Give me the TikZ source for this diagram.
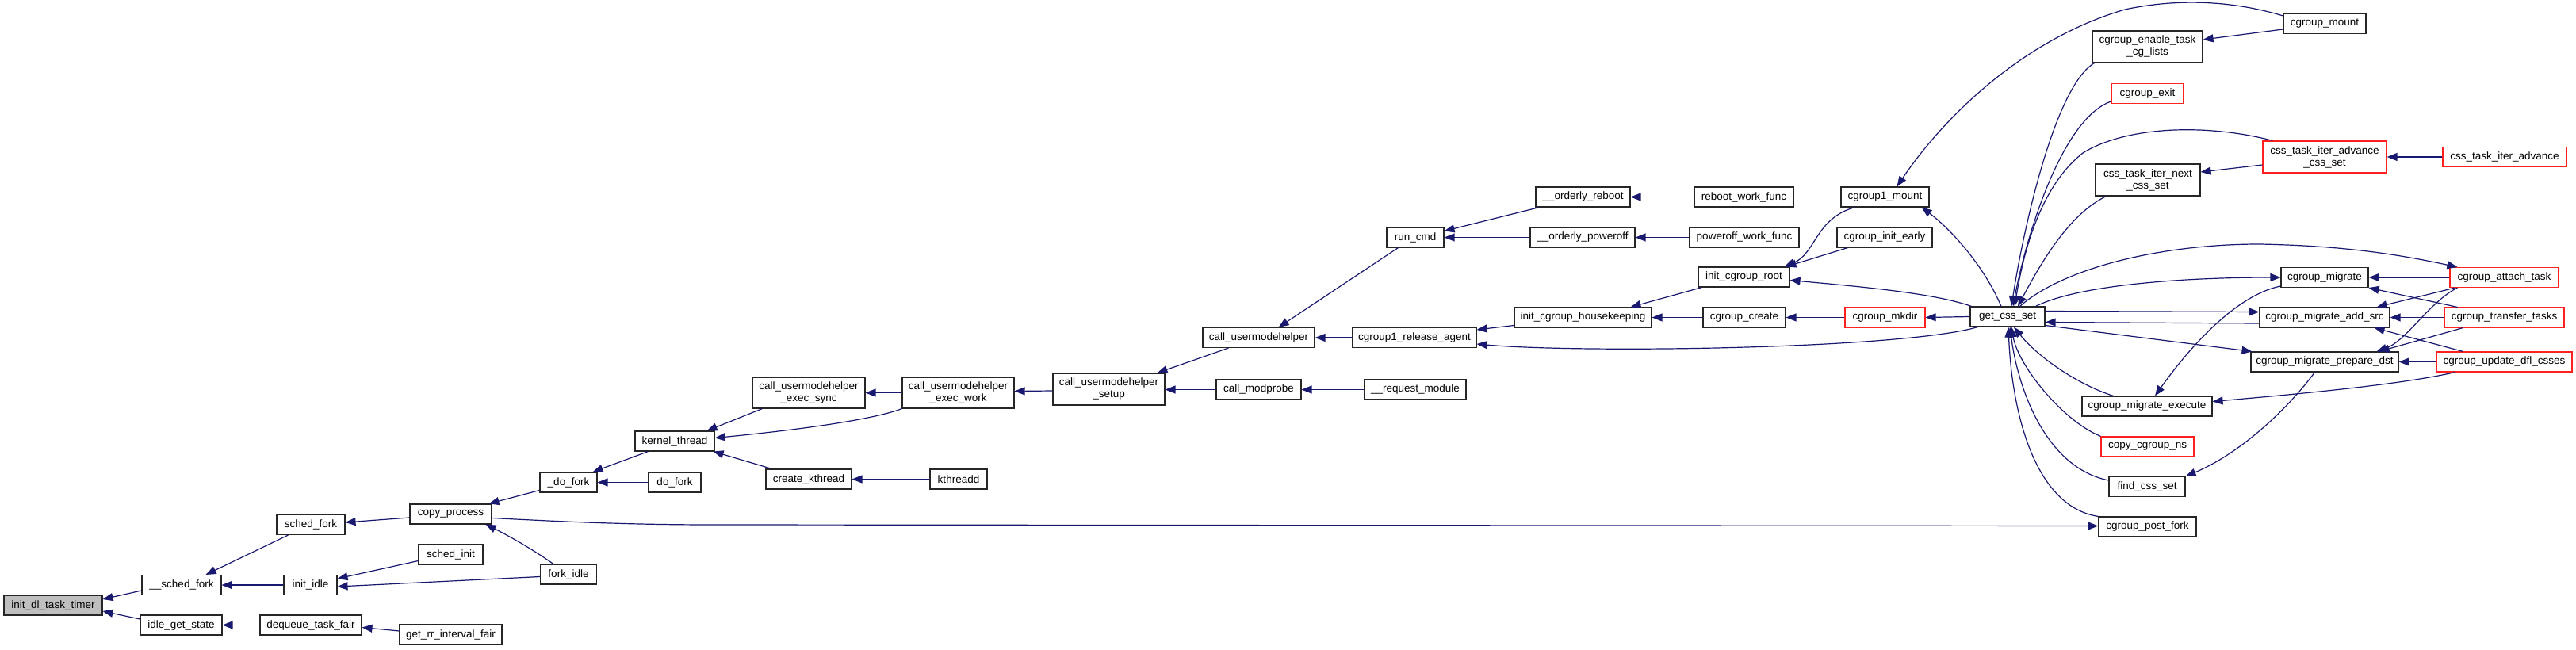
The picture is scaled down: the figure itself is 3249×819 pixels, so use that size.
\documentclass[tikz,border=0pt]{standalone}
\usepackage{fontspec}
\setmainfont{Liberation Sans}
\usetikzlibrary{arrows.meta,calc}
\definecolor{edgeblue}{HTML}{191970}
\definecolor{rootgray}{HTML}{BFBFBF}
\definecolor{redb}{HTML}{FF2020}
\begin{document}
\begin{tikzpicture}[x=1pt,y=-1pt,
 nb/.style={draw=black!85, line width=1.1pt, inner sep=0pt, minimum height=25pt, align=center, font=\fontsize{13.5}{15}\selectfont, fill=white},
 nr/.style={nb, draw=redb},
 e/.style={draw=edgeblue, line width=1.2pt, arrows={Triangle[length=13pt,width=10pt]-}}]
\fill[white] (0,0) rectangle (3249,819);
\useasboundingbox (0,0) rectangle (3249,819);
% nodes
\node[nb,fill=rootgray,minimum width=124pt] (root) at (67,763.5) {init\_dl\_task\_timer};
\node[nb,minimum width=100pt] (sfork) at (229,738) {\_\_sched\_fork};
\node[nb,minimum width=103pt] (igs) at (228.5,788.5) {idle\_get\_state};
\node[nb,minimum width=86pt] (schedf) at (392,662) {sched\_fork};
\node[nb,minimum width=67pt] (iidle) at (391.5,738) {init\_idle};
\node[nb,minimum width=128pt] (dtf) at (392,788.5) {dequeue\_task\_fair};
\node[nb,minimum width=103pt] (cproc) at (568.5,648.5) {copy\_process};
\node[nb,minimum width=81pt] (sinit) at (568.5,699.5) {sched\_init};
\node[nb,minimum width=129pt] (grr) at (568.5,800.5) {get\_rr\_interval\_fair};
\node[nb,minimum width=72pt] (udofork) at (717,608.5) {\_do\_fork};
\node[nb,minimum width=71pt] (fidle) at (717,724.5) {fork\_idle};
\node[nb,minimum width=66pt] (dofork) at (851,608.5) {do\_fork};
\node[nb,minimum width=100pt] (kthr) at (851,556.5) {kernel\_thread};
\node[nb,minimum width=142pt,minimum height=39pt] (cues) at (1020,495.5) {call\_usermodehelper\\\_exec\_sync};
\node[nb,minimum width=108pt] (ckt) at (1020,604.5) {create\_kthread};
\node[nb,minimum width=141pt,minimum height=39pt] (cuew) at (1208.5,495.5) {call\_usermodehelper\\\_exec\_work};
\node[nb,minimum width=72pt] (ktd) at (1209,604.5) {kthreadd};
\node[nb,minimum width=141pt,minimum height=40pt] (cusetup) at (1398.5,491) {call\_usermodehelper\\\_setup};
\node[nb,minimum width=141pt] (cuh) at (1587.5,426) {call\_usermodehelper};
\node[nb,minimum width=107pt] (cmp) at (1587.5,491.5) {call\_modprobe};
\node[nb,minimum width=72pt] (runcmd) at (1785,299.5) {run\_cmd};
\node[nb,minimum width=156pt] (cra) at (1784,426) {cgroup1\_release\_agent};
\node[nb,minimum width=128pt] (reqmod) at (1785,491.5) {\_\_request\_module};
\node[nb,minimum width=119pt] (oreboot) at (1996.5,248.5) {\_\_orderly\_reboot};
\node[nb,minimum width=132pt] (opoff) at (1996,299.5) {\_\_orderly\_poweroff};
\node[nb,minimum width=173pt] (ich) at (1996.5,400.5) {init\_cgroup\_housekeeping};
\node[nb,minimum width=125pt] (rwf) at (2199.5,248.5) {reboot\_work\_func};
\node[nb,minimum width=138pt] (pwf) at (2200,299.5) {poweroff\_work\_func};
\node[nb,minimum width=115pt] (icr) at (2199.5,349.5) {init\_cgroup\_root};
\node[nb,minimum width=104pt] (ccreate) at (2200,400.5) {cgroup\_create};
\node[nb,minimum width=111pt] (c1m) at (2377.5,248.5) {cgroup1\_mount};
\node[nb,minimum width=120pt] (cie) at (2377,299.5) {cgroup\_init\_early};
\node[nr,minimum width=101pt] (cmkdir) at (2377.5,400.5) {cgroup\_mkdir};
\node[nb,minimum width=94pt] (gcs) at (2532,399.5) {get\_css\_set};
\node[nb,minimum width=104pt] (cmount) at (2932,30) {cgroup\_mount};
\node[nb,minimum width=139pt,minimum height=40pt] (cetcl) at (2708.5,59) {cgroup\_enable\_task\\\_cg\_lists};
\node[nr,minimum width=91pt] (cexit) at (2708.5,118) {cgroup\_exit};
\node[nr,minimum width=156pt,minimum height=40pt] (ctiacs) at (2932,198) {css\_task\_iter\_advance\\\_css\_set};
\node[nr,minimum width=156pt] (ctia) at (3159,198) {css\_task\_iter\_advance};
\node[nb,minimum width=132pt,minimum height=40pt] (ctincs) at (2709,227) {css\_task\_iter\_next\\\_css\_set};
\node[nb,minimum width=110pt] (cmig) at (2932,350) {cgroup\_migrate};
\node[nr,minimum width=137pt] (cat) at (3158.5,350) {cgroup\_attach\_task};
\node[nb,minimum width=164pt] (cmas) at (2932,400.5) {cgroup\_migrate\_add\_src};
\node[nr,minimum width=151pt] (ctt) at (3158.5,400.5) {cgroup\_transfer\_tasks};
\node[nb,minimum width=186pt] (cmpd) at (2932,456.5) {cgroup\_migrate\_prepare\_dst};
\node[nr,minimum width=171pt] (cudc) at (3158.5,456.5) {cgroup\_update\_dfl\_csses};
\node[nb,minimum width=164pt] (cme) at (2708,512.5) {cgroup\_migrate\_execute};
\node[nr,minimum width=117pt] (ccns) at (2708.5,563.5) {copy\_cgroup\_ns};
\node[nb,minimum width=96pt] (fcs) at (2708,614) {find\_css\_set};
\node[nb,minimum width=123pt] (cpf) at (2708.5,664.5) {cgroup\_post\_fork};
% edges
\draw[e] ($(root.east)+(0,-7.5)$) -- ($(sfork.west)+(0,7)$);
\draw[e] ($(root.east)+(0,7.5)$) -- ($(igs.west)+(0,-7.5)$);
\draw[e] ($(sfork.north east)+(-20,0)$) -- ($(schedf.south west)+(15,0)$);
\draw[e] (sfork.east) -- (iidle.west);
\draw[e] (igs.east) -- (dtf.west);
\draw[e] ($(schedf.east)+(0,-3)$) -- ($(cproc.west)+(0,4.5)$);
\draw[e] ($(iidle.east)+(0,-8)$) -- ($(sinit.west)+(0,8)$);
\draw[e] ($(iidle.east)+(0,2)$) -- ($(fidle.west)+(0,3)$);
\draw[e] ($(dtf.east)+(0,3)$) -- ($(grr.west)+(0,-4.5)$);
\draw[e] ($(cproc.north east)+(-4,0)$) -- ($(udofork.west)+(0,10)$);
\draw[e] ($(cproc.south east)+(-8,0)$) .. controls (640,675) and (672,693) .. ($(fidle.north west)+(17,0)$);
\draw[e] ($(cpf.west)+(0,-1)$) -- (900,662) .. controls (780,662) and (690,657) .. ($(cproc.east)+(0,5)$);
\draw[e] ($(udofork.north east)+(-6,0)$) -- ($(kthr.south west)+(17,0)$);
\draw[e] (udofork.east) -- (dofork.west);
\draw[e] ($(kthr.north east)+(-10,0)$) -- ($(cues.south west)+(13,0)$);
\draw[e] ($(kthr.east)+(0,-4)$) .. controls (1000,543) and (1100,530) .. (cuew.south west);
\draw[e] ($(kthr.south east)+(-2,0)$) -- ($(ckt.north west)+(8,0)$);
\draw[e] (ckt.east) -- (ktd.west);
\draw[e] (cues.east) -- (cuew.west);
\draw[e] ($(cuew.east)+(0,-2)$) -- ($(cusetup.west)+(0,2)$);
\draw[e] ($(cusetup.north east)+(-10,0)$) -- ($(cuh.south west)+(33,0)$);
\draw[e] ($(cusetup.east)+(0,0.5)$) -- (cmp.west);
\draw[e] (cmp.east) -- (reqmod.west);
\draw[e] ($(cuh.north)+(25,0)$) -- ($(runcmd.south west)+(15,0)$);
\draw[e] (cuh.east) -- (cra.west);
\draw[e] ($(runcmd.east)+(0,-8)$) -- ($(oreboot.south west)+(5,0)$);
\draw[e] (runcmd.east) -- (opoff.west);
\draw[e] (oreboot.east) -- (rwf.west);
\draw[e] (opoff.east) -- (pwf.west);
\draw[e] ($(cra.east)+(0,-10)$) -- ($(ich.west)+(0,10)$);
\draw[e] ($(cra.east)+(0,8)$) .. controls (2000,446) and (2400,440) .. ($(gcs.south west)+(10,0)$);
\draw[e] ($(ich.north)+(60,0)$) -- ($(icr.south west)+(5,0)$);
\draw[e] (ich.east) -- (ccreate.west);
\draw[e] ($(icr.north east)+(-7,0)$) .. controls (2290,320) and (2290,275) .. ($(c1m.south west)+(18,0)$);
\draw[e] ($(icr.north east)+(-5,0)$) -- ($(cie.south west)+(14,0)$);
\draw[e] ($(icr.east)+(0,4)$) .. controls (2350,362) and (2440,370) .. ($(gcs.north west)+(2,0)$);
\draw[e] (ccreate.east) -- (cmkdir.west);
\draw[e] (cmkdir.east) -- (gcs.west);
\draw[e] ($(c1m.south east)+(-10,0)$) .. controls (2455,285) and (2500,330) .. ($(gcs.north)+(-8,0)$);
\draw[e] ($(c1m.north)+(15,0)$) .. controls (2450,150) and (2550,50) .. (2680,12) .. controls (2760,-5) and (2830,5) .. ($(cmount.north west)+(0,3)$);
\draw[e] ($(gcs.north)+(5,0)$) .. controls (2550,300) and (2590,110) .. ($(cetcl.south west)+(3,0)$);
\draw[e] ($(gcs.north)+(7,0)$) .. controls (2555,300) and (2600,150) .. ($(cexit.west)+(0,10)$);
\draw[e] ($(gcs.north)+(9,0)$) .. controls (2555,300) and (2580,230) .. (2627,193) .. controls (2680,160) and (2780,155) .. ($(ctiacs.north west)+(13,0)$);
\draw[e] ($(gcs.north)+(13,0)$) .. controls (2575,330) and (2610,270) .. ($(ctincs.south west)+(14,0)$);
\draw[e] (cmig.west) .. controls (2750,350) and (2620,360) .. ($(gcs.north east)+(-12,0)$);
\draw[e] ($(cat.north west)+(10,0)$) .. controls (3030,322) and (2960,310) .. (2850,308) .. controls (2720,308) and (2600,340) .. ($(gcs.north east)+(-32,0)$);
\draw[e] ($(cmas.west)+(0,-7)$) -- ($(gcs.east)+(0,-7)$);
\draw[e] ($(gcs.east)+(0,7)$) -- ($(cmas.west)+(0,7.5)$);
\draw[e] ($(cmpd.north west)+(2,0)$) -- ($(gcs.east)+(0,11)$);
\draw[e] ($(gcs.south)+(8,0)$) .. controls (2570,450) and (2620,485) .. ($(cme.north west)+(40,0)$);
\draw[e] ($(gcs.south)+(5,0)$) .. controls (2545,460) and (2600,530) .. (ccns.north west);
\draw[e] ($(gcs.south)+(3,0)$) .. controls (2545,490) and (2580,590) .. ($(fcs.west)+(0,-8)$);
\draw[e] ($(gcs.south)+(1,0)$) .. controls (2538,530) and (2570,640) .. (cpf.north west);
\draw[e] (cmig.east) -- (cat.west);
\draw[e] (cmig.south east) -- ($(ctt.north west)+(17,0)$);
\draw[e] ($(cmas.north east)+(-17,0)$) -- ($(cat.south west)+(7,0)$);
\draw[e] (cmas.east) -- (ctt.west);
\draw[e] ($(cmas.south east)+(-20,0)$) -- ($(cudc.north west)+(34,0)$);
\draw[e] ($(cmpd.north east)+(-28,0)$) .. controls (3035,430) and (3065,380) .. ($(cat.south west)+(10,0)$);
\draw[e] ($(cmpd.north east)+(-25,0)$) -- ($(ctt.south west)+(24,0)$);
\draw[e] (cmpd.east) -- (cudc.west);
\draw[e] ($(cme.east)+(0,-6)$) .. controls (2900,497) and (3030,485) .. ($(cudc.south west)+(24,0)$);
\draw[e] ($(cme.north)+(10,0)$) .. controls (2760,440) and (2820,372) .. ($(cmig.west)+(0,11)$);
\draw[e] (fcs.north east) .. controls (2830,570) and (2890,510) .. ($(cmpd.south west)+(81,0)$);
\draw[e] ($(ctincs.east)+(0,-10)$) -- ($(ctiacs.west)+(0,10)$);
\draw[e] (ctiacs.east) -- (ctia.west);
\draw[e] ($(cetcl.east)+(0,-9)$) -- ($(cmount.west)+(0,7)$);
\end{tikzpicture}
\end{document}
